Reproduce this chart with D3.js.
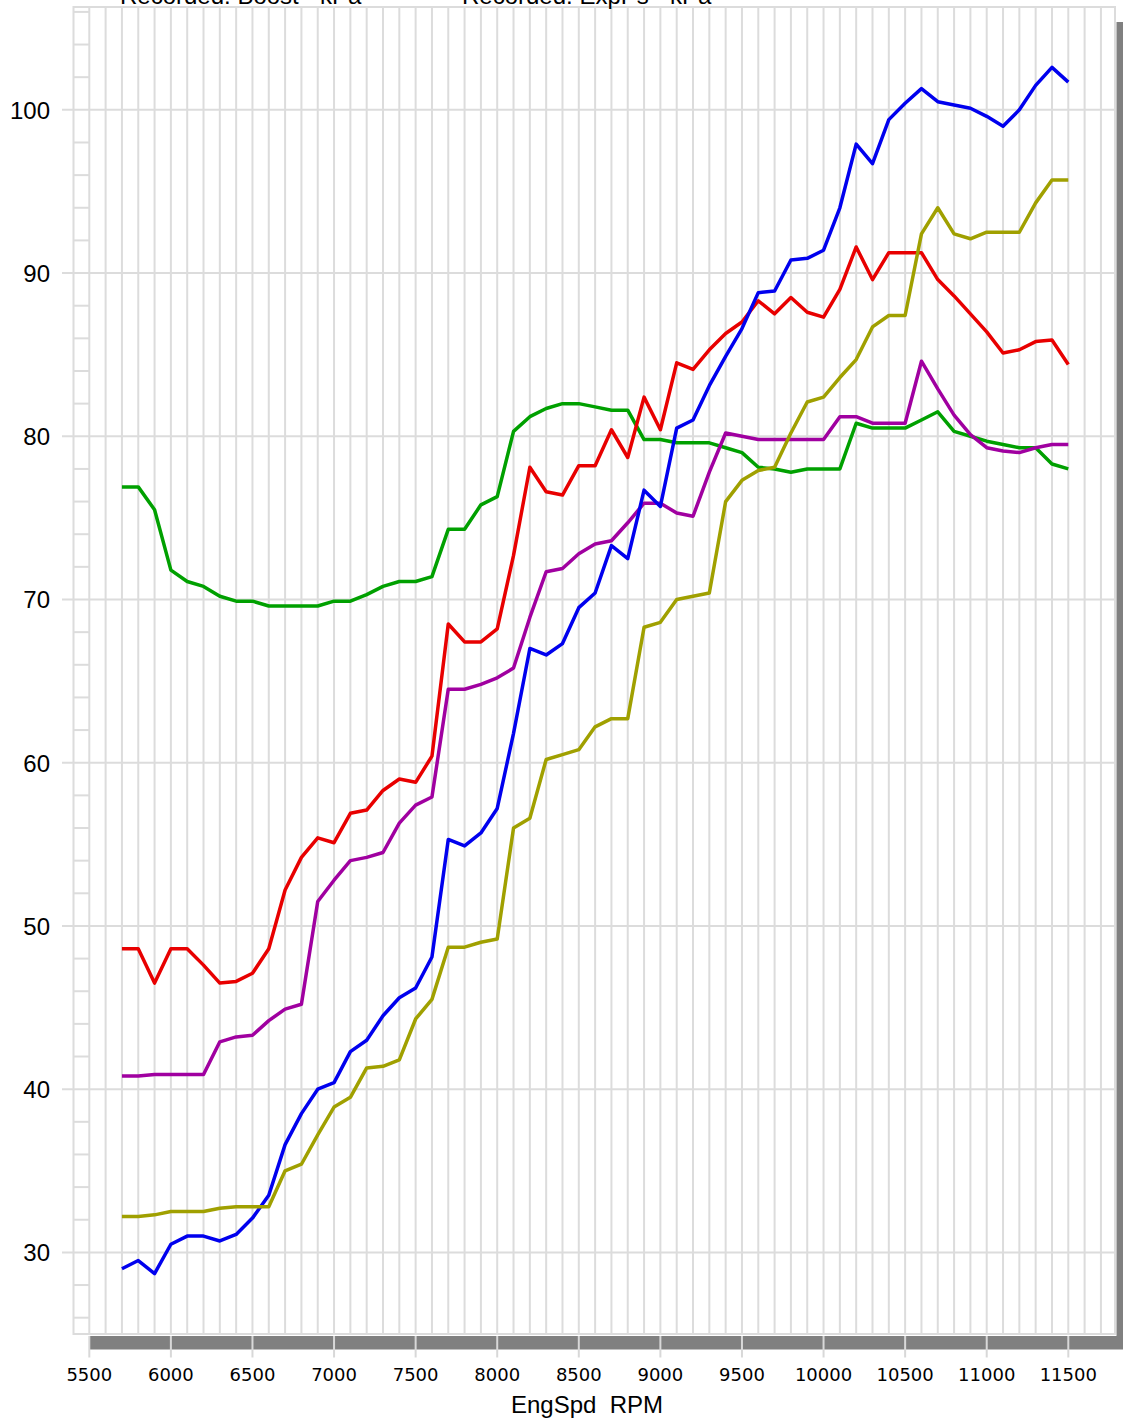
<!DOCTYPE html>
<html>
<head>
<meta charset="utf-8">
<script src="https://cdn.jsdelivr.net/npm/d3@7/dist/d3.min.js"></script>
<style>
	body { margin: 0; background: #fff; }
	svg { display: block; }
	text { font-family: 'Liberation Sans', Arial, sans-serif; fill: #000; }
	.xlabel { font-family: 'DejaVu Sans', Verdana, sans-serif; font-size: 18px; }
</style>
</head>
<body>
<script>

const rpm = [5700, 5800, 5900, 6000, 6100, 6200, 6300, 6400, 6500, 6600,
	6700, 6800, 6900, 7000, 7100, 7200, 7300, 7400, 7500, 7600,
	7700, 7800, 7900, 8000, 8100, 8200, 8300, 8400, 8500, 8600,
	8700, 8800, 8900, 9000, 9100, 9200, 9300, 9400, 9500, 9600,
	9700, 9800, 9900, 10000, 10100, 10200, 10300, 10400, 10500, 10600,
	10700, 10800, 10900, 11000, 11100, 11200, 11300, 11400, 11500]

const greenValues = [76.9, 76.9, 75.5, 71.8, 71.1, 70.8, 70.2, 69.9, 69.9, 69.6,
	69.6, 69.6, 69.6, 69.9, 69.9, 70.3, 70.8, 71.1, 71.1, 71.4,
	74.3, 74.3, 75.8, 76.3, 80.3, 81.2, 81.7, 82.0, 82.0, 81.8,
	81.6, 81.6, 79.8, 79.8, 79.6, 79.6, 79.6, 79.3, 79.0, 78.1,
	78.0, 77.8, 78.0, 78.0, 78.0, 80.8, 80.5, 80.5, 80.5, 81.0,
	81.5, 80.3, 80.0, 79.7, 79.5, 79.3, 79.3, 78.3, 78.0]

const redValues = [48.6, 48.6, 46.5, 48.6, 48.6, 47.6, 46.5, 46.6, 47.1, 48.6,
	52.2, 54.2, 55.4, 55.1, 56.9, 57.1, 58.3, 59.0, 58.8, 60.4,
	68.5, 67.4, 67.4, 68.2, 72.7, 78.1, 76.6, 76.4, 78.2, 78.2,
	80.4, 78.7, 82.4, 80.4, 84.5, 84.1, 85.3, 86.3, 87.0, 88.3,
	87.5, 88.5, 87.6, 87.3, 89.0, 91.6, 89.6, 91.25, 91.25, 91.25,
	89.6, 88.6, 87.5, 86.4, 85.1, 85.3, 85.8, 85.9, 84.4]

const purpleValues = [40.8, 40.8, 40.9, 40.9, 40.9, 40.9, 42.9, 43.2, 43.3, 44.2,
	44.9, 45.2, 51.5, 52.8, 54.0, 54.2, 54.5, 56.3, 57.4, 57.9,
	64.5, 64.5, 64.8, 65.2, 65.8, 68.9, 71.7, 71.9, 72.8, 73.4,
	73.6, 74.7, 75.9, 75.9, 75.3, 75.1, 77.8, 80.2, 80.0, 79.8,
	79.8, 79.8, 79.8, 79.8, 81.2, 81.2, 80.8, 80.8, 80.8, 84.6,
	82.9, 81.3, 80.1, 79.3, 79.1, 79.0, 79.3, 79.5, 79.5]

const blueValues = [29.0, 29.5, 28.7, 30.5, 31.0, 31.0, 30.7, 31.1, 32.1, 33.5,
	36.6, 38.5, 40.0, 40.4, 42.3, 43.0, 44.5, 45.6, 46.2, 48.1,
	55.3, 54.9, 55.7, 57.2, 61.8, 67.0, 66.6, 67.3, 69.5, 70.4,
	73.3, 72.5, 76.7, 75.7, 80.5, 81.0, 83.1, 84.9, 86.6, 88.8,
	88.9, 90.8, 90.9, 91.4, 94.0, 97.9, 96.7, 99.4, 100.4, 101.3,
	100.5, 100.3, 100.1, 99.6, 99.0, 100.0, 101.5, 102.6, 101.7]

const oliveValues = [32.2, 32.2, 32.3, 32.5, 32.5, 32.5, 32.7, 32.8, 32.8, 32.8,
	35.0, 35.4, 37.2, 38.9, 39.5, 41.3, 41.4, 41.8, 44.3, 45.5,
	48.7, 48.7, 49.0, 49.2, 56.0, 56.6, 60.2, 60.5, 60.8, 62.2,
	62.7, 62.7, 68.3, 68.6, 70.0, 70.2, 70.4, 76.0, 77.3, 77.9,
	78.1, 80.2, 82.1, 82.4, 83.6, 84.7, 86.7, 87.4, 87.4, 92.4,
	94.0, 92.4, 92.1, 92.5, 92.5, 92.5, 94.3, 95.7, 95.7]

const xTickLabels = [5500, 6000, 6500, 7000, 7500, 8000, 8500, 9000, 9500, 10000, 10500, 11000, 11500]
const yTickLabels = [30, 40, 50, 60, 70, 80, 90, 100]
const legendLabels = ['Recorded: Boost - kPa', 'Recorded: ExpPs - kPa']

const series = [
	{values: greenValues, color: '#00a000'},
	{values: redValues, color: '#e80000'},
	{values: purpleValues, color: '#a000a0'},
	{values: blueValues, color: '#0000ee'},
	{values: oliveValues, color: '#a0a000'}
]

const width = 1123, height = 1422
const plot = {left: 73.5, right: 1115, top: 7, bottom: 1334}
const grid = '#dcdcdc'

const x = d3.scaleLinear().domain([5500, 11500]).range([89.3, 1068.3])
const y = d3.scaleLinear().domain([25, 106.3]).range([plot.bottom, plot.top])

const svg = d3.select('body').append('svg')
	.attr('width', width)
	.attr('height', height)

svg.append('rect').attr('width', width).attr('height', height).attr('fill', '#fff')

// shadow bars right and below the plot
svg.append('rect')
	.attr('x', plot.right + 1.5).attr('y', 22)
	.attr('width', width - plot.right - 1.5).attr('height', 1349 - 22)
	.attr('fill', '#808080')

svg.append('rect')
	.attr('x', x(5500)).attr('y', 1336)
	.attr('width', width - x(5500)).attr('height', 13.5)
	.attr('fill', '#808080')

svg.append('rect')
	.attr('x', plot.left).attr('y', plot.top)
	.attr('width', plot.right - plot.left).attr('height', plot.bottom - plot.top)
	.attr('fill', '#fff')
	.attr('stroke', grid)
	.attr('stroke-width', 2)

// vertical grid, every 100 rpm
svg.append('g').selectAll('line')
	.data(d3.range(5500, 11701, 100))
	.enter()
	.append('line')
	.attr('x1', d => x(d)).attr('x2', d => x(d))
	.attr('y1', plot.top).attr('y2', plot.bottom)
	.attr('stroke', grid)
	.attr('stroke-width', 2)

// minor ticks in the left strip
svg.append('g').selectAll('line')
	.data(d3.range(26, 107, 2).filter(v => v % 10 !== 0))
	.enter()
	.append('line')
	.attr('x1', plot.left).attr('x2', x(5500))
	.attr('y1', d => y(d)).attr('y2', d => y(d))
	.attr('stroke', grid)
	.attr('stroke-width', 2)

svg.append('g').selectAll('line')
	.data(yTickLabels)
	.enter()
	.append('line')
	.attr('x1', 62).attr('x2', plot.right)
	.attr('y1', d => y(d)).attr('y2', d => y(d))
	.attr('stroke', grid)
	.attr('stroke-width', 2)

svg.append('g').selectAll('line')
	.data(xTickLabels)
	.enter()
	.append('line')
	.attr('x1', d => x(d)).attr('x2', d => x(d))
	.attr('y1', 1336).attr('y2', 1357.5)
	.attr('stroke', '#d8d8d8')
	.attr('stroke-width', 2)

svg.append('g').selectAll('text')
	.data(xTickLabels)
	.enter()
	.append('text')
	.attr('class', 'xlabel')
	.attr('x', d => x(d))
	.attr('y', 1381)
	.attr('text-anchor', 'middle')
	.text(d => d)

svg.append('g').selectAll('text')
	.data(yTickLabels)
	.enter()
	.append('text')
	.attr('x', 50)
	.attr('y', d => y(d) + 9)
	.attr('text-anchor', 'end')
	.style('font-size', '24px')
	.text(d => d)

svg.append('text')
	.attr('x', 587)
	.attr('y', 1413)
	.attr('text-anchor', 'middle')
	.style('font-size', '24px')
	.style('white-space', 'pre')
	.text('EngSpd  RPM')

// legend sits mostly above the picture edge, as in the source
svg.selectAll('.legend')
	.data(legendLabels)
	.enter()
	.append('text')
	.attr('class', 'legend')
	.attr('x', (d, i) => i === 0 ? 120 : 462)
	.attr('y', 4)
	.style('font-size', '24px')
	.text(d => d)

const line = d3.line()
	.x((d, i) => x(rpm[i]))
	.y(d => y(d))

svg.append('g').selectAll('path')
	.data(series)
	.enter()
	.append('path')
	.attr('d', s => line(s.values))
	.attr('fill', 'none')
	.attr('stroke', s => s.color)
	.attr('stroke-width', 3.5)
	.attr('stroke-linejoin', 'round')

</script>
</body>
</html>
